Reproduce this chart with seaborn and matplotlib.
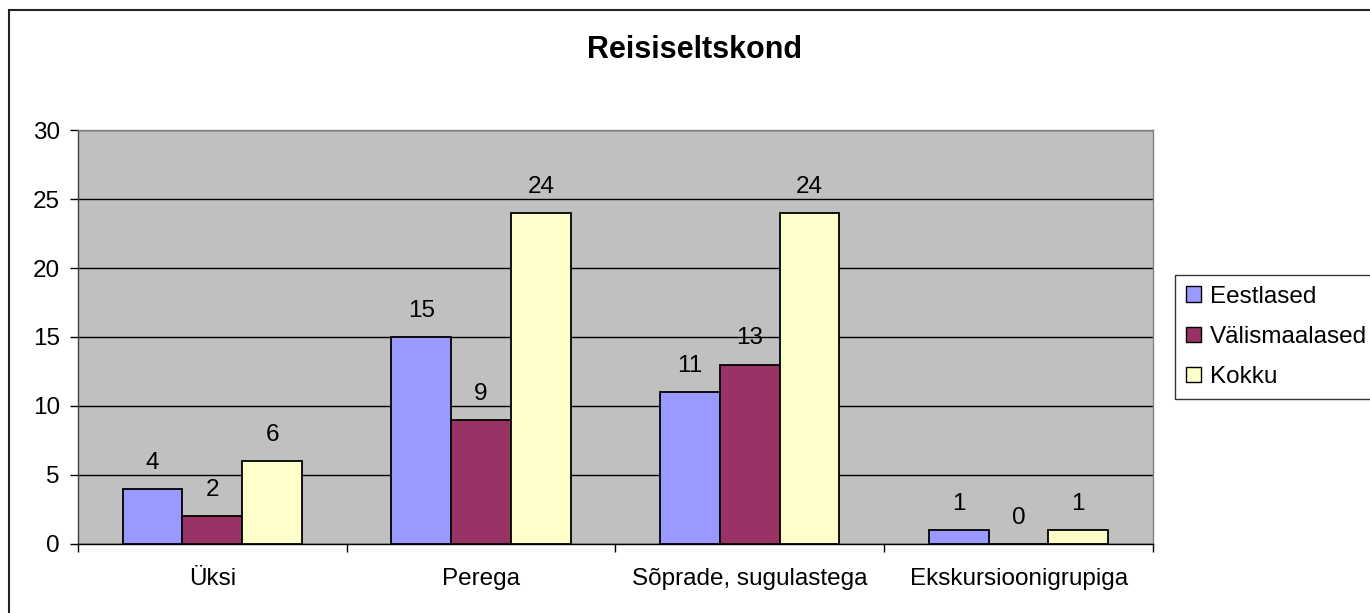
import matplotlib
matplotlib.use("Agg")
import matplotlib.pyplot as plt
from matplotlib.patches import Rectangle
from matplotlib.ticker import FixedLocator
import seaborn as sns
import pandas as pd

categories = ["Üksi", "Perega", "Sõprade, sugulastega", "Ekskursioonigrupiga"]
eestlased = [4, 15, 11, 1]
valismaalased = [2, 9, 13, 0]
kokku = [6, 24, 24, 1]
series_names = ["Eestlased", "Välismaalased", "Kokku"]
colors = ["#9999FF", "#993366", "#FFFFCC"]
y_ticks = [0, 5, 10, 15, 20, 25, 30]

rows = []
for name, vals in zip(series_names, [eestlased, valismaalased, kokku]):
    for c, v in zip(categories, vals):
        rows.append({"Kategooria": c, "Seeria": name, "Väärtus": v})
df = pd.DataFrame(rows)

sns.set_theme(style="white")
plt.rcParams["font.family"] = ["Liberation Sans", "DejaVu Sans"]
plt.rcParams["text.color"] = "black"
plt.rcParams["xtick.color"] = "black"
plt.rcParams["ytick.color"] = "black"
plt.rcParams["axes.labelcolor"] = "black"

FS = 17.5

fig = plt.figure(figsize=(13.7, 6.13), dpi=100)
fig.patches.append(Rectangle((0.0066, -0.2), 1.2, 0.9837 + 0.2, transform=fig.transFigure,
                             fill=False, edgecolor="#222222", linewidth=1.5))
ax = fig.add_axes([0.0569, 0.1126, 0.7847, 0.6753])
ax.set_facecolor("#C0C0C0")

sns.barplot(data=df, x="Kategooria", y="Väärtus", hue="Seeria", order=categories,
            hue_order=series_names, palette=colors, width=0.667, ax=ax,
            edgecolor="black", linewidth=1.3, saturation=1, legend=True, zorder=3)

for cont in ax.containers:
    ax.bar_label(cont, labels=[f"{int(v)}" for v in cont.datavalues], padding=11,
                 fontsize=FS, color="black")

ax.set_ylim(0, 30)
ax.set_xlim(-0.5, len(categories) - 0.5)
ax.set_yticks(y_ticks)
ax.set_yticklabels([str(t) for t in y_ticks], fontsize=FS)
ax.yaxis.grid(True, color="black", linewidth=1, zorder=0)
ax.set_axisbelow(True)
ax.set_xticks(range(len(categories)))
ax.set_xticklabels(categories, fontsize=FS)
ax.tick_params(axis="x", which="major", length=0, pad=17)
ax.xaxis.set_minor_locator(FixedLocator([i - 0.5 for i in range(len(categories) + 1)]))
ax.tick_params(axis="x", which="minor", length=6, width=1, color="black", bottom=True)
ax.tick_params(axis="y", length=6, width=1, color="black", left=True, pad=7)
ax.set_xlabel("")
ax.set_ylabel("")
for s in ["top", "right"]:
    ax.spines[s].set_color("#808080")
ax.spines["left"].set_color("#404040")
ax.spines["bottom"].set_color("black")
for s in ax.spines.values():
    s.set_linewidth(1)

fig.text(0.507, 0.918, "Reisiseltskond", ha="center", va="center", fontsize=22,
         fontweight="bold", color="black")

leg = ax.legend(loc="center left", bbox_to_anchor=(1.0205, 0.5), frameon=True,
                fontsize=FS, handlelength=0.6, handleheight=0.6, handletextpad=0.4,
                labelspacing=0.75, borderpad=0.45, fancybox=False, borderaxespad=0)
leg.get_frame().set_edgecolor("black")
leg.get_frame().set_linewidth(1)
for h in leg.legend_handles:
    h.set_edgecolor("black")
    h.set_linewidth(1)

fig.savefig("out.png", dpi=100)
